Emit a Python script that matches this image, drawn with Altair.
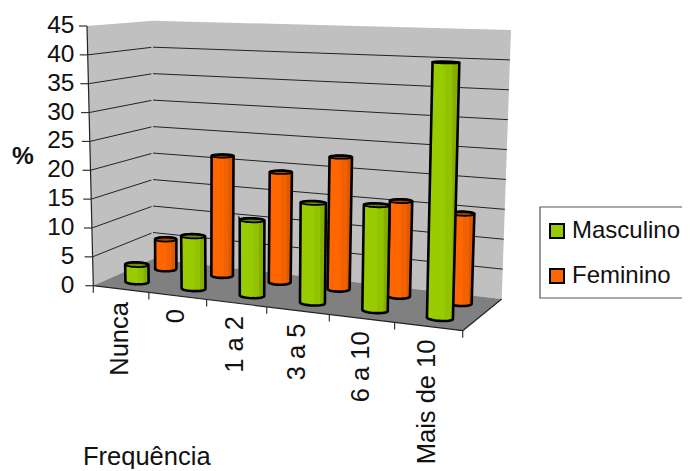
import math
import altair as alt
import pandas as pd

# ---- values ----
categories = ["Nunca", "0", "1 a 2", "3 a 5", "6 a 10", "Mais de 10"]
masculino = [3, 9, 12.7, 16.5, 17, 40.5]
feminino = [5.4, 21.4, 19.3, 22.7, 16, 14.8]
y_ticks = [0, 5, 10, 15, 20, 25, 30, 35, 40, 45]

# ---- 3D box the chart lives in (page pixels) ----
FLB, FLT = (93.3, 285.7), (87.0, 26.0)
BLB, BLT = (153.0, 259.0), (153.0, 20.7)
BRB, BRT = (501.7, 299.0), (511.0, 30.0)
FRB, FRT = (462.7, 330.7), (470.0, 37.0)
VMAX = 45.0
KF, KB = 1.13, 1.05


def lerp(a, b, t):
    return (a[0] + (b[0] - a[0]) * t, a[1] + (b[1] - a[1]) * t)


def warp(t, k):
    return t / (t + (1 - t) * k) if (t + (1 - t) * k) else 0.0


def proj(t, d, v):
    """t along categories (0..1), d depth (0 front..1 back), v value."""
    w = v / VMAX
    front = lerp(lerp(FLB, FRB, warp(t, KF)), lerp(FLT, FRT, warp(t, KF)), w)
    back = lerp(lerp(BLB, BRB, warp(t, KB)), lerp(BLT, BRT, warp(t, KB)), w)
    return lerp(front, back, d)


def envelope(poly, xa=None, xb=None):
    xs = sorted({round(p[0], 3) for p in poly})
    if xa is not None:
        xs = sorted({x for x in xs if xa <= x <= xb} | {round(xa, 3), round(xb, 3)})
    out = []
    n = len(poly)
    for x in xs:
        ys = []
        for i in range(n):
            a, b = poly[i], poly[(i + 1) % n]
            if min(a[0], b[0]) - 1e-3 <= x <= max(a[0], b[0]) + 1e-3:
                if abs(a[0] - b[0]) < 1e-6:
                    ys += [a[1], b[1]]
                else:
                    ys.append(a[1] + (b[1] - a[1]) * (x - a[0]) / (b[0] - a[0]))
        if ys:
            out.append((x, min(ys), max(ys)))
    return out


def hull(points):
    pts = sorted(set(points))

    def half(seq):
        h = []
        for p in seq:
            while len(h) >= 2 and (h[-1][0] - h[-2][0]) * (p[1] - h[-2][1]) - (h[-1][1] - h[-2][1]) * (p[0] - h[-2][0]) <= 0:
                h.pop()
            h.append(p)
        return h[:-1]

    return half(pts) + half(pts[::-1])


polys_back, polys_bars, polys_legend = [], [], []


def add(store, poly, fill, stroke="transparent", sw=0, xa=None, xb=None):
    store.append({"rows": envelope(poly, xa, xb), "fill": fill, "stroke": stroke, "sw": sw})


def frame(store):
    rec = []
    for i, s in enumerate(store):
        for x, lo, hi in s["rows"]:
            rec.append({"pid": f"p{i:04d}", "x": x, "y": lo, "y2": hi, "fill": s["fill"], "stroke": s["stroke"], "sw": s["sw"]})
    return pd.DataFrame(rec)


add(polys_back, [FLT, BLT, BLB, FLB], "#C0C0C0")
add(polys_back, [BLT, BRT, BRB, BLB], "#C0C0C0")

floor_polys = []
add(floor_polys, [FLB, FRB, BRB, BLB], "#808080")

n = len(categories)
THETA = [2 * math.pi * i / 32 for i in range(32)]


def bar(i, value, dc, hu, hd, colors):
    tc = (i + 0.5) / n
    ring = [(tc + hu / n * math.cos(a), dc + hd * math.sin(a)) for a in THETA]
    top = [proj(t, d, value) for t, d in ring]
    bot = [proj(t, d, 0) for t, d in ring]
    sil = hull(top + bot)
    x0, x1 = min(p[0] for p in sil), max(p[0] for p in sil)
    add(polys_bars, sil, colors[0])
    wdt = x1 - x0
    add(polys_bars, sil, colors[1], xa=x0 + 0.55 * wdt, xb=x0 + 0.78 * wdt)
    add(polys_bars, sil, colors[2], xa=x0 + 0.78 * wdt, xb=x1)
    add(polys_bars, hull(top), colors[3], "#000000", 1.8)
    add(polys_bars, sil, "transparent", "#000000", 2.6)


GREEN = ("#99CC00", "#92C200", "#84AE00", "#6F8F00")
ORANGE = ("#FF6600", "#F26100", "#DD5800", "#A84400")
for i, v in enumerate(feminino):
    bar(i, v, 0.75, 0.17, 0.08, ORANGE)
for i, v in enumerate(masculino):
    bar(i, v, 0.27, 0.19, 0.08, GREEN)

# legend
add(polys_legend, [(550, 224), (564, 224), (564, 238), (550, 238)], "#99CC00", "#000000", 2)
add(polys_legend, [(550, 269), (564, 269), (564, 283), (550, 283)], "#FF6600", "#000000", 2)

# lines
grid, edges, ticks, legend_box = [], [], [], []


def add_line(store, pts):
    lid = f"l{len(store):04d}"
    for k, (x, y) in enumerate(pts):
        store.append({"lid": lid, "k": k, "x": x, "y": y})


for v in y_ticks[1:-1]:
    add_line(grid, [proj(0, 0, v), proj(0, 0.975, v)])
    add_line(grid, [proj(0, 1, v), proj(1, 1, v)])
add_line(edges, [proj(0, 0, 0), proj(0, 0, VMAX)])
add_line(edges, [proj(0, 0, 0), proj(1, 0, 0)])
add_line(edges, [proj(1, 0, 0), proj(1, 1, 0)])
for v in y_ticks:
    p = proj(0, 0, v)
    add_line(ticks, [(p[0] - 8, p[1]), p])
for i in range(n + 1):
    p = proj(i / n, 0, 0)
    add_line(ticks, [p, (p[0], p[1] + 7)])
add_line(legend_box, [(682, 207), (540, 207), (540, 298), (682, 298)])

X = dict(scale=alt.Scale(domain=[8, 682], nice=False, zero=False), axis=None)
Y = dict(scale=alt.Scale(domain=[469, 8], nice=False, zero=False), axis=None)


def area_layer(store):
    return alt.Chart(frame(store)).mark_area().encode(
        x=alt.X("x:Q", **X),
        y=alt.Y("y:Q", **Y),
        y2="y2:Q",
        detail="pid:N",
        fill=alt.Fill("fill:N", scale=None),
        stroke=alt.Stroke("stroke:N", scale=None),
        strokeWidth=alt.StrokeWidth("sw:Q", scale=None),
    )


def line_layer(store, color, width):
    return alt.Chart(pd.DataFrame(store)).mark_line(color=color, strokeWidth=width).encode(
        x=alt.X("x:Q", **X), y=alt.Y("y:Q", **Y), detail="lid:N", order="k:Q"
    )


FONT = dict(font="Liberation Sans", fontSize=24.5, color="#111111")


def text_layer(rows, **kw):
    opts = {**FONT, **kw}
    return alt.Chart(pd.DataFrame(rows)).mark_text(**opts).encode(
        x=alt.X("x:Q", **X), y=alt.Y("y:Q", **Y), text="t:N"
    )


ylabels = [{"x": 74.5, "y": proj(0, 0, v)[1], "t": str(v)} for v in y_ticks]
xlabels = []
for i, c in enumerate(categories):
    p = proj((i + 0.5) / n, 0, 0)
    xlabels.append({"x": p[0] - 1, "y": p[1] + 13, "t": c})

chart = alt.layer(
    area_layer(polys_back),
    line_layer(grid, "#222222", 1),
    area_layer(floor_polys),
    area_layer(polys_bars),
    line_layer(edges, "#222222", 1.2),
    line_layer(ticks, "#333333", 1.2),
    line_layer(legend_box, "#555555", 1.2),
    area_layer(polys_legend),
    text_layer(ylabels, align="right", baseline="middle"),
    text_layer(xlabels, align="right", baseline="middle", angle=270, fontSize=25.5),
    text_layer([{"x": 83, "y": 465, "t": "Frequência"}], align="left", baseline="alphabetic", fontSize=25.5),
    text_layer([{"x": 12, "y": 164, "t": "%"}], align="left", baseline="alphabetic", fontWeight="bold"),
    text_layer([{"x": 572, "y": 238, "t": "Masculino"}, {"x": 572, "y": 282.5, "t": "Feminino"}], align="left", baseline="alphabetic", fontSize=24),
).properties(width=674, height=461, padding=0, autosize=alt.AutoSizeParams(type="none")).configure_view(stroke=None)

chart.save("out.html", embed_options={"renderer": "svg", "actions": False})
